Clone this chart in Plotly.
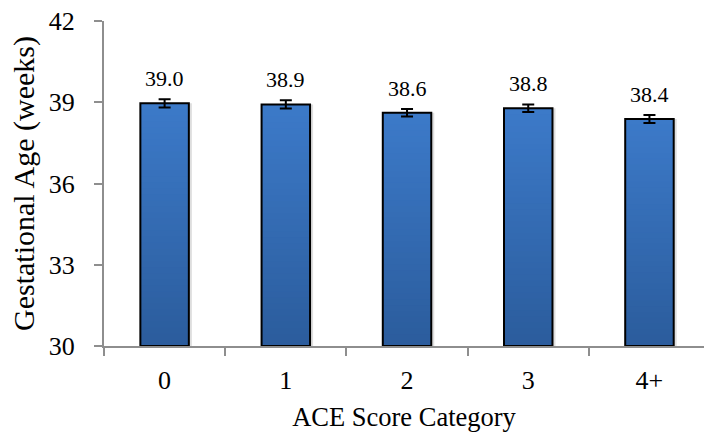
import plotly.graph_objects as go

# Mean gestational age by ACE score category, with standard errors
categories = ["0", "1", "2", "3", "4+"]
mean_weeks = [38.96, 38.92, 38.61, 38.78, 38.38]
std_err = [0.15, 0.15, 0.14, 0.14, 0.15]
y_ticks = [30, 33, 36, 39, 42]

Y_MIN, Y_MAX = 30, 42
FONT = "Liberation Serif"
TOP_RGB = (60, 122, 201)
BOTTOM_RGB = (43, 92, 156)
N_STEPS = 40
BAR_WIDTH = 0.4

fig = go.Figure()

# soft drop shadow to the right of each bar
fig.add_trace(go.Bar(
    x=categories,
    y=[v - Y_MIN for v in mean_weeks],
    base=Y_MIN,
    width=BAR_WIDTH,
    offset=-BAR_WIDTH / 2 + 0.025,
    marker=dict(color="rgba(0,0,0,0.13)", line=dict(width=0)),
    hoverinfo="skip",
    showlegend=False,
))

# vertical gradient fill: each slice runs from its level up to the bar top,
# later (lighter) slices are painted over the lower part of earlier ones
for k in range(N_STEPS):
    t = (k + 0.5) / N_STEPS
    r, g, b = (round(BOTTOM_RGB[i] + (TOP_RGB[i] - BOTTOM_RGB[i]) * t) for i in range(3))
    fig.add_trace(go.Bar(
        x=categories,
        y=[(v - Y_MIN) * (N_STEPS - k) / N_STEPS for v in mean_weeks],
        base=[Y_MIN + (v - Y_MIN) * k / N_STEPS for v in mean_weeks],
        width=BAR_WIDTH,
        marker=dict(color=f"rgb({r},{g},{b})", line=dict(width=0)),
        hoverinfo="skip",
        showlegend=False,
    ))

# outline + error bars
fig.add_trace(go.Bar(
    x=categories,
    y=[v - Y_MIN for v in mean_weeks],
    base=Y_MIN,
    width=BAR_WIDTH,
    marker=dict(color="rgba(0,0,0,0)", line=dict(color="#000000", width=2)),
    error_y=dict(type="data", array=std_err, color="#000000", thickness=2, width=6),
    showlegend=False,
))

for c, v in zip(categories, mean_weeks):
    fig.add_annotation(
        x=c, y=v, text=f"{v:.1f}", showarrow=False,
        yanchor="bottom", yshift=10,
        font=dict(family=FONT, size=22, color="#000000"),
    )

fig.update_layout(
    barmode="overlay",
    width=704, height=434,
    margin=dict(l=104, r=0, t=21, b=88),
    paper_bgcolor="white", plot_bgcolor="white",
    font=dict(family=FONT, color="#000000"),
    xaxis=dict(
        type="category", range=[-0.5, 4.45],
        showline=True, linecolor="#8E8E8E", linewidth=2,
        ticks="outside", tickson="boundaries", ticklen=8, tickcolor="#8E8E8E", tickwidth=2,
        tickfont=dict(size=26), ticklabelstandoff=10,
        showgrid=False, zeroline=False,
        title=dict(text="ACE Score Category", font=dict(size=26.5), standoff=13),
    ),
    yaxis=dict(
        range=[Y_MIN, Y_MAX], tickvals=y_ticks,
        showline=True, linecolor="#8E8E8E", linewidth=2,
        ticks="outside", ticklen=8, tickcolor="#8E8E8E", tickwidth=2,
        tickfont=dict(size=26), ticklabelstandoff=14,
        showgrid=False, zeroline=False,
        title=dict(text="Gestational Age (weeks)", font=dict(size=30), standoff=5),
    ),
)

fig.write_html("out.html")
